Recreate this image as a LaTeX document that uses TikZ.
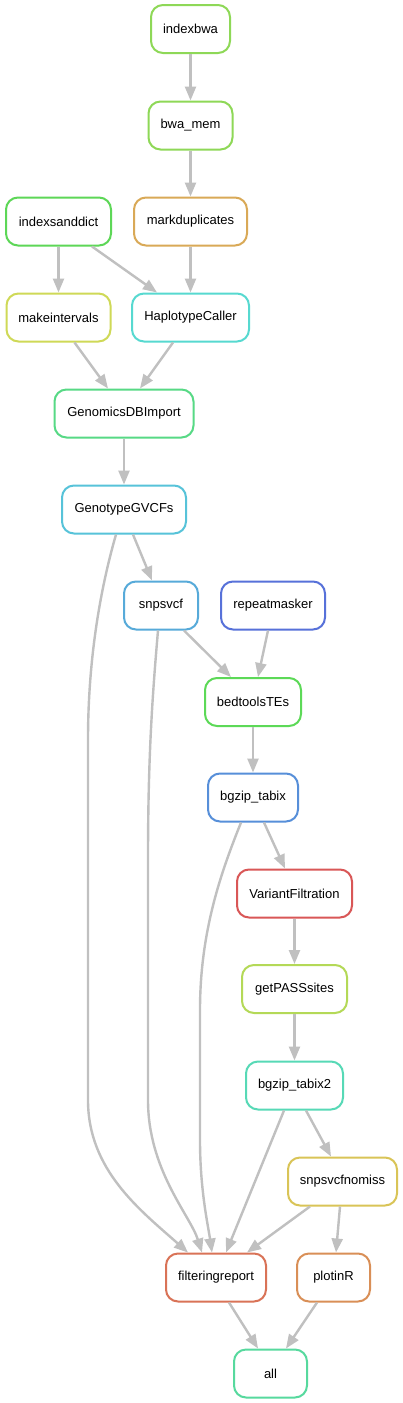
\documentclass[tikz,border=0pt]{standalone}
\usepackage{fontspec}
\setmainfont{Liberation Sans}
\usetikzlibrary{arrows.meta}
\definecolor{cIdx}{HTML}{8ED857}
\definecolor{cDict}{HTML}{5DD757}
\definecolor{cMark}{HTML}{D9A957}
\definecolor{cInt}{HTML}{CFD957}
\definecolor{cHap}{HTML}{57D9D0}
\definecolor{cGdb}{HTML}{57D985}
\definecolor{cGgv}{HTML}{57C3D9}
\definecolor{cSnp}{HTML}{57AAD9}
\definecolor{cRep}{HTML}{5771D9}
\definecolor{cBed}{HTML}{5CD957}
\definecolor{cBgz}{HTML}{578FD9}
\definecolor{cVF}{HTML}{D95757}
\definecolor{cPass}{HTML}{B4D957}
\definecolor{cBgz2}{HTML}{57D9B6}
\definecolor{cNomiss}{HTML}{D9C457}
\definecolor{cFilt}{HTML}{D97357}
\definecolor{cPlot}{HTML}{D98F57}
\definecolor{cAll}{HTML}{57D99E}
\definecolor{edgegray}{HTML}{C0C0C0}
\tikzset{
  rule/.style={draw=#1, line width=2pt, rounded corners=12pt, fill=white,
    minimum height=48pt, inner sep=0pt, font=\fontsize{13}{15}\selectfont},
  conn/.style={draw=edgegray, line width=2.4pt, -{Triangle[length=14pt,width=11pt]}},
}
\begin{document}
\begin{tikzpicture}[x=1pt,y=-1pt]
\useasboundingbox[fill=white] (0,0) rectangle (402,1403);
\node[rule=cIdx, minimum width=79pt] (indexbwa) at (190.5,29) {indexbwa};
\node[rule=cIdx, minimum width=84pt] (bwamem) at (190.5,125.5) {bwa\_mem};
\node[rule=cDict, minimum width=105pt] (dict) at (58.5,221.5) {indexsanddict};
\node[rule=cMark, minimum width=113pt] (mark) at (190.5,221.5) {markduplicates};
\node[rule=cInt, minimum width=104pt] (intervals) at (58.5,317.5) {makeintervals};
\node[rule=cHap, minimum width=117pt] (hap) at (190.5,317.5) {HaplotypeCaller};
\node[rule=cGdb, minimum width=139pt] (gdb) at (124,413.5) {GenomicsDBImport};
\node[rule=cGgv, minimum width=124pt] (ggvcf) at (124,509.5) {GenotypeGVCFs};
\node[rule=cSnp, minimum width=74pt] (snp) at (161,605.5) {snpsvcf};
\node[rule=cRep, minimum width=104pt] (rep) at (273,605.5) {repeatmasker};
\node[rule=cBed, minimum width=96pt] (bed) at (253,702) {bedtoolsTEs};
\node[rule=cBgz, minimum width=90pt] (bgz) at (253,797.5) {bgzip\_tabix};
\node[rule=cVF, minimum width=115pt] (vf) at (294.5,893.5) {VariantFiltration};
\node[rule=cPass, minimum width=105pt] (pass) at (294.5,989) {getPASSsites};
\node[rule=cBgz2, minimum width=97pt] (bgz2) at (294.5,1085.5) {bgzip\_tabix2};
\node[rule=cNomiss, minimum width=109pt] (nomiss) at (342.5,1181.5) {snpsvcfnomiss};
\node[rule=cFilt, minimum width=100pt] (filt) at (216,1277.5) {filteringreport};
\node[rule=cPlot, minimum width=73pt] (plot) at (333.5,1277.5) {plotinR};
\node[rule=cAll, minimum width=73pt] (all) at (270.5,1373.5) {all};

\draw[conn] (indexbwa.south) -- (bwamem.north);
\draw[conn] (bwamem.south) -- (mark.north);
\draw[conn] (dict.south) -- (intervals.north);
\draw[conn] ([xshift=33.5pt]dict.south) -- ([xshift=-33.5pt]hap.north);
\draw[conn] (mark.south) -- (hap.north);
\draw[conn] ([xshift=16pt]intervals.south) -- ([xshift=-16pt]gdb.north);
\draw[conn] ([xshift=-17.5pt]hap.south) -- ([xshift=16pt]gdb.north);
\draw[conn] (gdb.south) -- (ggvcf.north);
\draw[conn] ([xshift=9pt]ggvcf.south) -- ([xshift=-9pt]snp.north);
\draw[conn] ([xshift=-8pt]ggvcf.south) .. controls (100,590) and (88,660) .. (88,740)
  -- (88,1100) .. controls (88,1170) and (140,1210) .. ([xshift=-28pt]filt.north);
\draw[conn] ([xshift=23pt]snp.south) -- ([xshift=-22pt]bed.north);
\draw[conn] ([xshift=-3pt]snp.south) .. controls (152,700) and (148,760) .. (148,860)
  -- (148,1100) .. controls (148,1170) and (190,1215) .. ([xshift=-14pt]filt.north);
\draw[conn] ([xshift=-5pt]rep.south) -- ([xshift=5pt]bed.north);
\draw[conn] (bed.south) -- (bgz.north);
\draw[conn] ([xshift=11pt]bgz.south) -- ([xshift=-9.5pt]vf.north);
\draw[conn] ([xshift=-12pt]bgz.south) .. controls (222,870) and (200,930) .. (200,1010)
  -- (200,1140) .. controls (200,1190) and (208,1225) .. ([xshift=-4pt]filt.north);
\draw[conn] (vf.south) -- (pass.north);
\draw[conn] (pass.south) -- (bgz2.north);
\draw[conn] ([xshift=11.5pt]bgz2.south) -- ([xshift=-11.5pt]nomiss.north);
\draw[conn] ([xshift=-10.5pt]bgz2.south) -- ([xshift=10pt]filt.north);
\draw[conn] ([xshift=-32.5pt]nomiss.south) -- ([xshift=31pt]filt.north);
\draw[conn] ([xshift=-2.5pt]nomiss.south) -- ([xshift=2.5pt]plot.north);
\draw[conn] ([xshift=13pt]filt.south) -- ([xshift=-12.5pt]all.north);
\draw[conn] ([xshift=-16.5pt]plot.south) -- ([xshift=15.5pt]all.north);
\end{tikzpicture}
\end{document}
